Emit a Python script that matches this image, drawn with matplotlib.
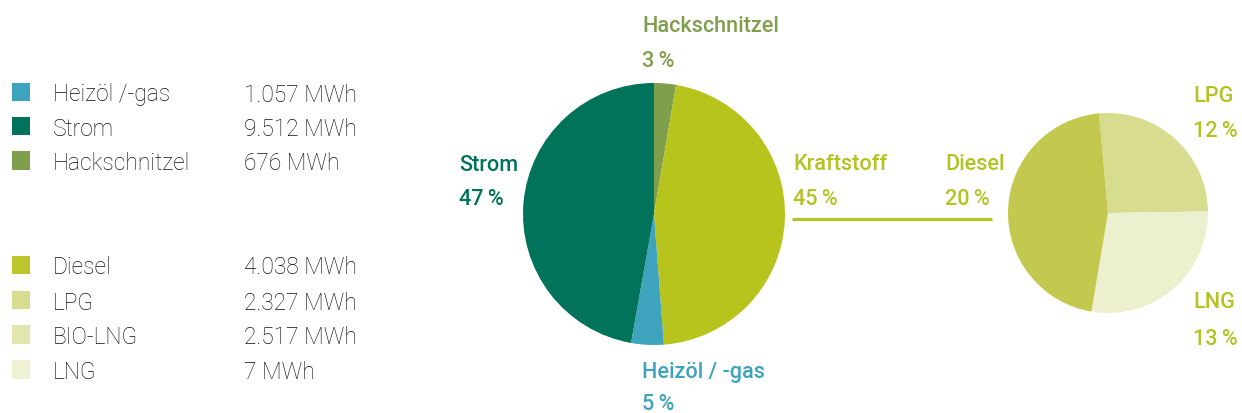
import matplotlib
matplotlib.use("Agg")
from matplotlib import pyplot as plt

# legend data
legend_names_1 = ["Heizöl /-gas", "Strom", "Hackschnitzel"]
legend_values_1 = ["1.057 MWh", "9.512 MWh", "676 MWh"]
legend_colors_1 = ["#3ea3bd", "#00735a", "#7f9f4c"]

legend_names_2 = ["Diesel", "LPG", "BIO-LNG", "LNG"]
legend_values_2 = ["4.038 MWh", "2.327 MWh", "2.517 MWh", "7 MWh"]
legend_colors_2 = ["#bcc52e", "#d8dc8f", "#e2e5ad", "#eef1d2"]

# main pie (clockwise from top), shares as drawn
main_names = ["Hackschnitzel", "Kraftstoff", "Heizöl / -gas", "Strom"]
main_share = [2.7, 46.1, 4.0, 47.2]
main_pct = ["3\u2009%", "45\u2009%", "5\u2009%", "47\u2009%"]
main_colors = ["#7f9f4c", "#b8c41e", "#3ea3bd", "#00735a"]

# fuel pie (clockwise, starting just left of top)
fuel_names = ["LPG", "LNG", "Diesel"]
fuel_share = [26.2, 27.9, 45.9]
fuel_pct = ["12\u2009%", "13\u2009%", "20\u2009%"]
fuel_colors = ["#d8dc8f", "#ecf0cf", "#c3c94e"]

W, H = 1242, 414
fig = plt.figure(figsize=(W / 100, H / 100), dpi=100)
ax = fig.add_axes([0, 0, 1, 1])

fam = ["Roboto", "DejaVu Sans"]
lab_size = 15.6
leg_size = 16.4


def py(y):
    # pixel row -> data y
    return H - y


# legend blocks
def legend_block(names, values, colors, centers):
    ax.scatter([21] * len(names), [py(c) for c in centers], marker="s",
               s=168, c=colors, linewidths=0, zorder=3)
    for n, v, c in zip(names, values, centers):
        ax.text(53, py(c + 8.5), n, fontsize=leg_size, family=fam,
                weight="light", color="#111111", va="baseline")
        ax.text(244, py(c + 8.5), v, fontsize=leg_size, family=fam,
                weight="light", color="#111111", va="baseline")


legend_block(legend_names_1, legend_values_1, legend_colors_1, [93, 127, 161.5])
legend_block(legend_names_2, legend_values_2, legend_colors_2, [266, 301, 335.5, 370.5])

# main pie
ax.pie(main_share, colors=main_colors, startangle=90, counterclock=False,
       center=(654, py(215)), radius=131, wedgeprops=dict(linewidth=0))

# fuel pie
ax.pie(fuel_share, colors=fuel_colors, startangle=95.2, counterclock=False,
       center=(1108, py(214)), radius=100, wedgeprops=dict(linewidth=0))


def label(x, yb, name, pct, color, gap=35):
    ax.text(x, py(yb), name, fontsize=lab_size, family=fam, weight="medium",
            color=color, va="baseline")
    ax.text(x, py(yb + gap), pct, fontsize=lab_size, family=fam, weight="medium",
            color=color, va="baseline")


label(642, 32, main_names[0], main_pct[0], "#7f9f4c")
label(793, 170, main_names[1], main_pct[1], "#b5c224")
label(642, 378, main_names[2], main_pct[2], "#3ea3bd", gap=32)
label(459, 171, main_names[3], main_pct[3], "#00735a", gap=34)

label(1193, 102, fuel_names[0], fuel_pct[0], "#b5c224")
label(1193, 308, fuel_names[1], fuel_pct[1], "#b5c224", gap=37)
label(945, 170, fuel_names[2], fuel_pct[2], "#b5c224")

# connector
ax.plot([792, 992], [py(220), py(220)], color="#b5c224", linewidth=2.3,
        solid_capstyle="butt")

ax.set_xlim(0, W)
ax.set_ylim(0, H)
ax.set_aspect("equal")
ax.axis("off")

fig.savefig("out.png", dpi=100)
